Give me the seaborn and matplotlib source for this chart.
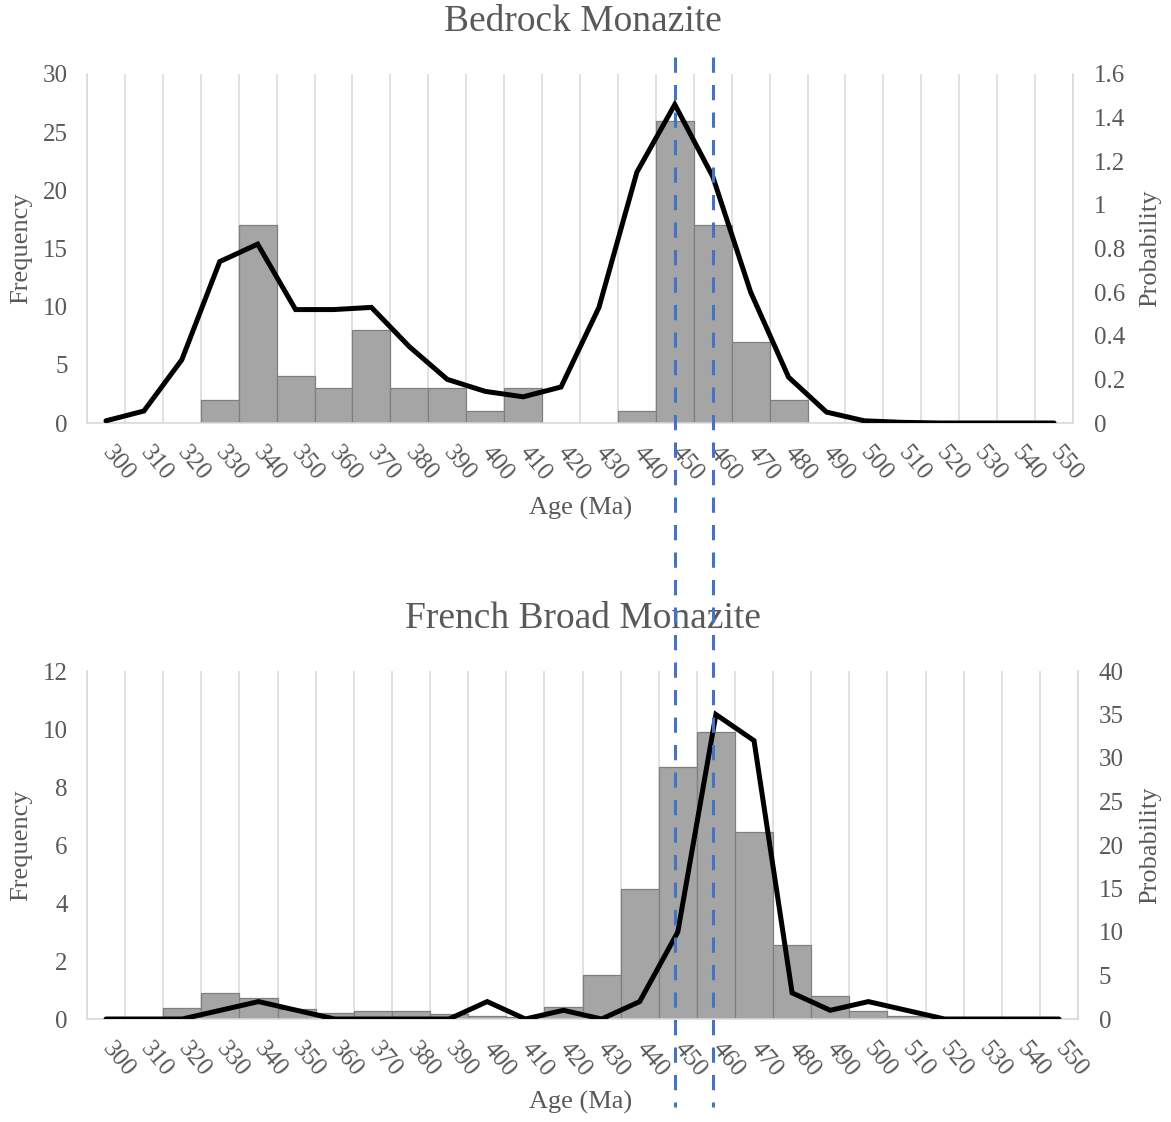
import numpy as np
import pandas as pd
import matplotlib
matplotlib.use("Agg")
import matplotlib.pyplot as plt
from matplotlib.lines import Line2D
import seaborn as sns

# Age bins (Ma)
ages = [300, 310, 320, 330, 340, 350, 360, 370, 380, 390, 400, 410, 420,
        430, 440, 450, 460, 470, 480, 490, 500, 510, 520, 530, 540, 550]

# Bedrock monazite: histogram counts and probability density
bedrock_freq = [0, 0, 0, 2, 17, 4, 3, 8, 3, 3, 1, 3, 0,
                0, 1, 26, 17, 7, 2, 0, 0, 0, 0, 0, 0, 0]
bedrock_prob = [0.01, 0.055, 0.29, 0.74, 0.82, 0.52, 0.52, 0.53, 0.35, 0.20, 0.145, 0.12, 0.165,
                0.53, 1.15, 1.46, 1.13, 0.60, 0.21, 0.05, 0.01, 0.003, 0.0, 0.0, 0.0, 0.0]

# French Broad monazite: histogram counts and probability density
french_broad_freq = [0, 0, 0.38, 0.88, 0.72, 0.33, 0.22, 0.26, 0.28, 0.18, 0.11, 0.06, 0.43,
                     1.52, 4.48, 8.7, 9.9, 6.45, 2.54, 0.78, 0.29, 0.09, 0, 0, 0, 0]
french_broad_prob = [0, 0, 0, 1, 2, 1, 0, 0, 0, 0, 2, 0, 1,
                     0, 2, 10, 35, 32, 3, 1, 2, 1, 0, 0, 0, 0]

# Reference ages marked across both panels
marker_ages = [450, 460]

sns.set_theme(style="white")
plt.rcParams["font.family"] = ["Liberation Serif", "DejaVu Serif"]

TEXT = "#595959"
GRID = "#D9D9D9"
BAR = "#A5A5A5"
EDGE = "#7F7F7F"
W, H = 1171, 1122
TICK_SIZE = 18
LABEL_SIZE = 19
TITLE_SIZE = 27

fig = plt.figure(figsize=(W / 100, H / 100), dpi=100)
ax_top = fig.add_axes([87 / W, 1 - 423 / H, 986 / W, 349 / H])
ax_bot = fig.add_axes([87 / W, 1 - 1019 / H, 991 / W, 348 / H])


def draw_panel(ax, freq, prob, f_max, f_step, p_max, p_step):
    df = pd.DataFrame({"age": ages, "freq": freq, "prob": prob})
    sns.barplot(data=df, x="age", y="freq", native_scale=True, width=1.0,
                color=BAR, saturation=1, edgecolor=EDGE, linewidth=0.9, ax=ax)
    ax.set_xlim(ages[0] - 5, ages[-1] + 5)
    ax.set_ylim(0, f_max)
    ax.set_yticks(np.arange(0, f_max + 0.001, f_step))
    ax.set_yticklabels([f"{v:g}" for v in np.arange(0, f_max + 0.001, f_step)])
    ax.set_xticks(ages)
    ax.set_xticklabels([str(a) for a in ages], rotation=-50, ha="left",
                       va="center", rotation_mode="anchor")
    ax.set_xticks(np.arange(ages[0] - 5, ages[-1] + 6, 10), minor=True)
    ax.set_axisbelow(True)
    ax.grid(False)
    ax.grid(which="minor", axis="x", color=GRID, linewidth=1.1)
    ax.tick_params(axis="x", which="both", length=0, pad=19,
                   labelsize=TICK_SIZE, labelcolor=TEXT)
    ax.tick_params(axis="y", length=0, pad=14, labelsize=TICK_SIZE, labelcolor=TEXT)
    ax.set_xlabel("")
    ax.set_ylabel("")
    ax.spines["top"].set_visible(False)
    ax.spines["right"].set_visible(False)
    for s in ("left", "bottom"):
        ax.spines[s].set_color(GRID)
        ax.spines[s].set_linewidth(1.1)

    ax2 = ax.twinx()
    sns.lineplot(data=df, x="age", y="prob", color="black", linewidth=3.6,
                 errorbar=None, ax=ax2, solid_capstyle="round",
                 solid_joinstyle="miter")
    ax2.set_ylim(0, p_max)
    p_ticks = np.round(np.arange(0, p_max + 0.001, p_step), 1)
    ax2.set_yticks(p_ticks)
    ax2.set_yticklabels([f"{v:g}" for v in p_ticks])
    ax2.tick_params(axis="y", length=0, pad=15, labelsize=TICK_SIZE, labelcolor=TEXT)
    ax2.set_ylabel("")
    ax2.set_xlabel("")
    for s in ("left", "top", "bottom"):
        ax2.spines[s].set_visible(False)
    ax2.spines["right"].set_color(GRID)
    ax2.spines["right"].set_linewidth(1.1)
    ax2.grid(False)
    return ax2


draw_panel(ax_top, bedrock_freq, bedrock_prob, 30, 5, 1.6, 0.2)
draw_panel(ax_bot, french_broad_freq, french_broad_prob, 12, 2, 40, 5)

# Titles and axis titles
fig.text(583 / W, 1 - 22 / H, "Bedrock Monazite", ha="center", va="center",
         fontsize=TITLE_SIZE, color=TEXT)
fig.text(583 / W, 1 - 619 / H, "French Broad Monazite", ha="center", va="center",
         fontsize=TITLE_SIZE, color=TEXT)
for yc in (248, 845):
    fig.text(21 / W, 1 - yc / H, "Frequency", rotation=90, ha="center",
             va="center", fontsize=LABEL_SIZE, color=TEXT)
    fig.text(1150 / W, 1 - yc / H, "Probability", rotation=90, ha="center",
             va="center", fontsize=LABEL_SIZE, color=TEXT)
fig.text(581 / W, 1 - 508 / H, "Age (Ma)", ha="center", va="center",
         fontsize=LABEL_SIZE, color=TEXT)
fig.text(581 / W, 1 - 1102 / H, "Age (Ma)", ha="center", va="center",
         fontsize=LABEL_SIZE, color=TEXT)

# Dashed reference lines spanning both panels
to_fig = fig.transFigure.inverted()
for age in marker_ages:
    xf = to_fig.transform(ax_top.transData.transform((age, 0)))[0]
    fig.add_artist(Line2D([xf, xf], [1 - 57 / H, 1 - 1107 / H],
                          transform=fig.transFigure, color="#4472C4",
                          linewidth=2.2, linestyle=(0, (5, 4)), zorder=5))

fig.savefig("out.png", dpi=100)
